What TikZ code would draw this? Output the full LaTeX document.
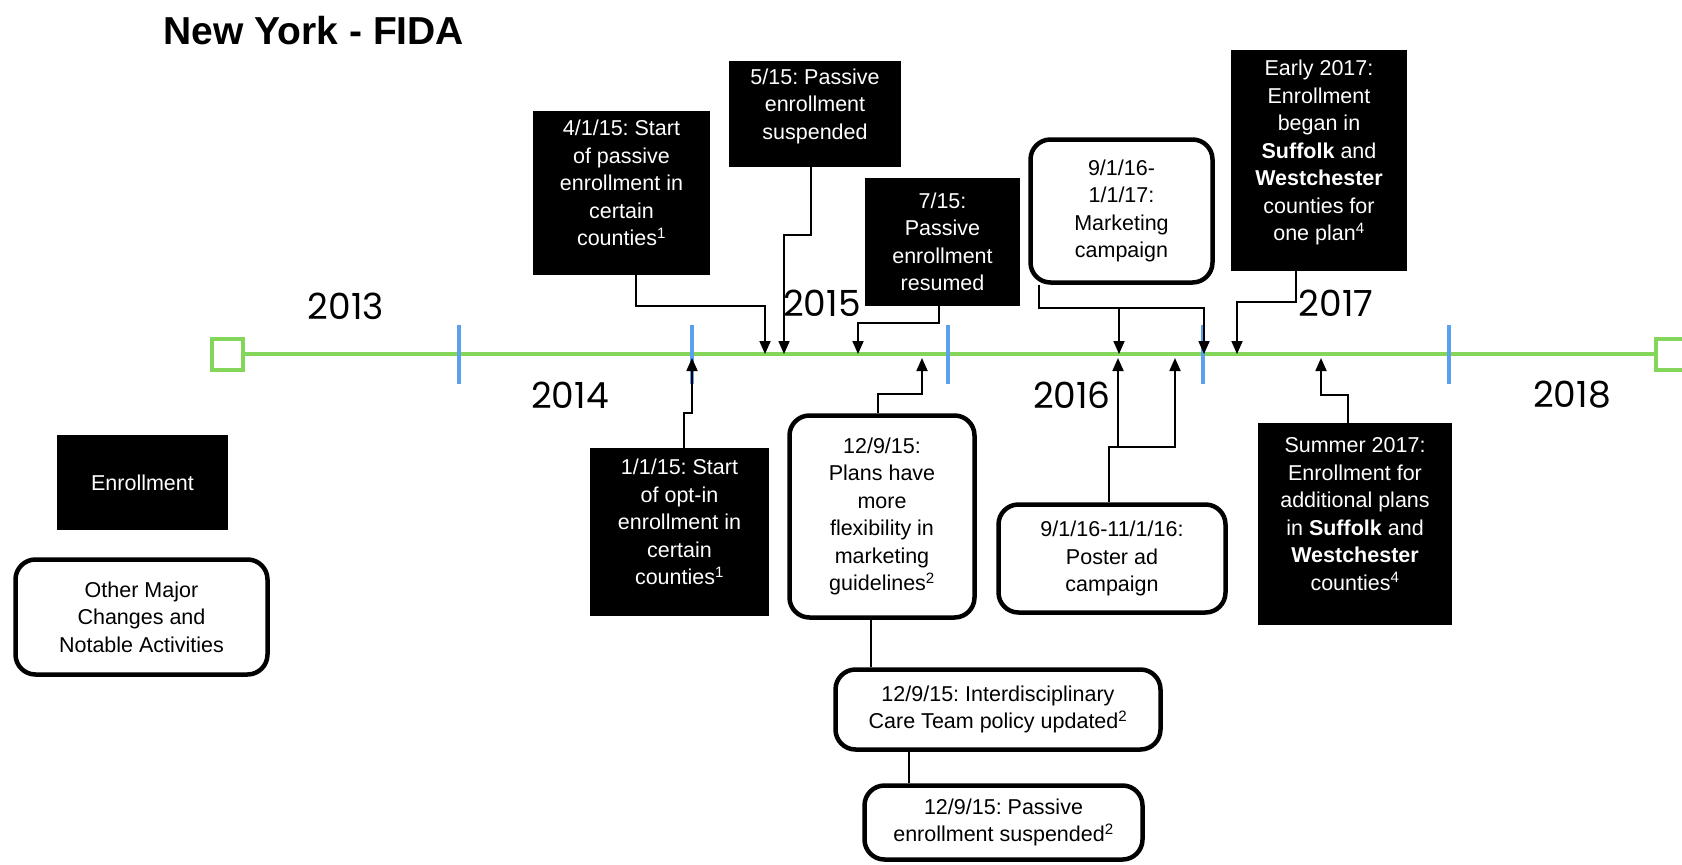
\documentclass[tikz,border=0pt]{standalone}
\usepackage{fontspec}
\setmainfont{Liberation Sans}
\newfontfamily\yearfont{Poppins}
\usepackage{graphicx}
\usetikzlibrary{arrows.meta}
\definecolor{tlgreen}{HTML}{84D65A}
\definecolor{tlblue}{HTML}{5AA0EE}
\newcommand\boxfont{\fontsize{21.5}{27.5}\selectfont}
\tikzset{enr/.style={fill=black,text=white,align=center,inner sep=0pt,font=\boxfont},enrup/.style={enr,text depth=20pt},oth/.style={draw=black,line width=4.5pt,rounded corners=20pt,fill=white,align=center,inner sep=0pt,font=\boxfont},conn/.style={line width=1.8pt},arr/.style={conn,-{Triangle[length=13pt,width=11pt]}},yearlab/.style={font=\yearfont\fontsize{36}{36}\selectfont},yeartick/.style={draw=tlblue,line width=4pt},endsq/.style={draw=tlgreen,line width=4pt,fill=white,minimum size=31pt,inner sep=0pt}}
\frenchspacing

\begin{document}
\begin{tikzpicture}[x=1pt,y=-1pt]
\useasboundingbox[fill=white] (0,0) rectangle (1682,865);
\node[anchor=west,font=\bfseries\fontsize{39}{39}\selectfont] (title) at (160,31) {New York - FIDA};
\node[endsq] (s0) at (227.5,354) {};
\node[endsq] (s1) at (1671.5,354) {};
\draw[draw=tlgreen,line width=3.5pt] (s0) -- (s1);
\foreach \x in {459,692,948,1203,1449}{\draw[yeartick] (\x,325) -- (\x,384);}
\node[yearlab] (y13) at (346,306) {2013};
\node[yearlab] (y14) at (570,395) {2014};
\node[yearlab] (y15) at (822,303) {2015};
\node[yearlab] (y16) at (1072,395) {2016};
\node[yearlab] (y17) at (1336,303) {2017};
\node[yearlab] (y18) at (1572,395) {2018};
\node[enr,minimum width=171pt,minimum height=95pt] (lenr) at (142.5,482.5) {Enrollment};
\node[oth,minimum width=252pt,minimum height=115pt] (loth) at (141.5,617) {Other Major\\Changes and\\Notable Activities};
\node[enrup,minimum width=177pt,minimum height=164pt] (b4115) at (621.5,193) {4/1/15: Start\\of passive\\enrollment in\\certain\\counties\textsuperscript{1}};
\node[enrup,minimum width=172pt,minimum height=106pt] (b515) at (815,114) {5/15: Passive\\enrollment\\suspended};
\node[enr,minimum width=155pt,minimum height=128pt] (b715) at (942.5,242) {7/15:\\Passive\\enrollment\\resumed};
\node[oth,minimum width=182pt,minimum height=143pt] (bmkt) at (1121.5,211) {9/1/16-\\1/1/17:\\Marketing\\campaign};
\node[enrup,minimum width=176pt,minimum height=221pt] (bearly) at (1319,160.5) {Early 2017:\\Enrollment\\began in\\\textbf{Suffolk} and\\\textbf{Westchester}\\counties for\\one plan\textsuperscript{4}};
\node[enrup,minimum width=179pt,minimum height=168pt] (b1115) at (679.5,532) {1/1/15: Start\\of opt-in\\enrollment in\\certain\\counties\textsuperscript{1}};
\node[oth,minimum width=185pt,minimum height=202pt] (bplans) at (882,516.5) {12/9/15:\\Plans have\\more\\flexibility in\\marketing\\guidelines\textsuperscript{2}};
\node[oth,minimum width=227pt,minimum height=108pt] (bposter) at (1112,558.5) {9/1/16-11/1/16:\\Poster ad\\campaign};
\node[enrup,minimum width=194pt,minimum height=202pt] (bsummer) at (1355,524) {Summer 2017:\\Enrollment for\\additional plans\\in \textbf{Suffolk} and\\\textbf{Westchester}\\counties\textsuperscript{4}};
\node[oth,minimum width=325pt,minimum height=80pt] (bidt) at (998,709.5) {12/9/15: Interdisciplinary\\Care Team policy updated\textsuperscript{2}};
\node[oth,minimum width=278pt,minimum height=74pt] (bpes) at (1003.5,822.5) {12/9/15: Passive\\enrollment suspended\textsuperscript{2}};
\coordinate (d4115) at (765,354);
\coordinate (d515) at (784,354);
\coordinate (d715) at (858,354);
\coordinate (dmk1) at (1119,354);
\coordinate (dmk2) at (1204,354);
\coordinate (dearly) at (1237,354);
\coordinate (d1115) at (692,358);
\coordinate (dplans) at (922,358);
\coordinate (dpo1) at (1118,358);
\coordinate (dpo2) at (1175,358);
\coordinate (dsum) at (1321,358);
\draw[arr] (b4115.south -| 636,0) |- (d4115 |- 0,306) -- (d4115);
\draw[arr] (b515.south -| 811,0) |- (d515 |- 0,235) -- (d515);
\draw[arr] (b715.south -| 939,0) |- (d715 |- 0,323) -- (d715);
\draw[arr] (bmkt.south -| 1039,0) |- (dmk2 |- 0,308) -- (dmk2);
\draw[arr] (dmk1 |- 0,308) -- (dmk1);
\draw[arr] (bearly.south -| 1296,0) |- (dearly |- 0,302) -- (dearly);
\draw[arr] (b1115.north -| 684,0) |- (d1115 |- 0,413) -- (d1115);
\draw[arr] (bplans.north -| 878,0) |- (dplans |- 0,394) -- (dplans);
\draw[arr] (bposter.north -| 1109,0) |- (dpo1 |- 0,447) -- (dpo1);
\draw[arr] (dpo1 |- 0,447) -| (dpo2);
\draw[arr] (bsummer.north -| 1348,0) |- (dsum |- 0,395) -- (dsum);
\draw[conn] (bplans.south -| 871,0) -- (bidt.north -| 871,0);
\draw[conn] (bidt.south -| 909,0) -- (bpes.north -| 909,0);
\end{tikzpicture}
\end{document}
